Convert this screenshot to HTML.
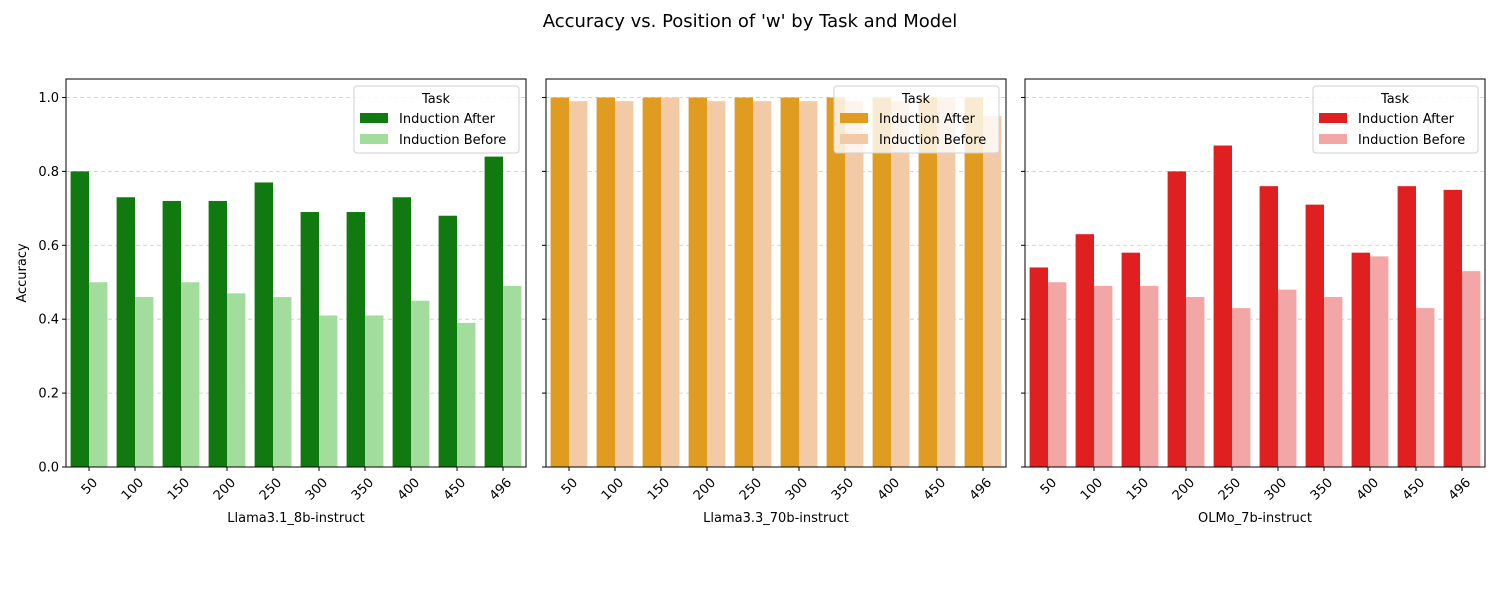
<!DOCTYPE html>
<html><head><meta charset="utf-8"><style>
body{margin:0;background:#fff;}
svg{display:block;font-family:"DejaVu Sans","Liberation Sans",sans-serif;}
</style></head><body>
<svg id="chart" width="1500" height="600" viewBox="0 0 1500 600">
<rect width="1500" height="600" fill="#fff"/>
<text x="750" y="27" text-anchor="middle" font-size="18">Accuracy vs. Position of 'w' by Task and Model</text>
</svg>
<script>
const categories = ["50","100","150","200","250","300","350","400","450","496"];
const models = ["Llama3.1_8b-instruct","Llama3.3_70b-instruct","OLMo_7b-instruct"];
const llama8After = [0.80,0.73,0.72,0.72,0.77,0.69,0.69,0.73,0.68,0.84];
const llama8Before = [0.50,0.46,0.50,0.47,0.46,0.41,0.41,0.45,0.39,0.49];
const llama70After = [1.0,1.0,1.0,1.0,1.0,1.0,1.0,1.0,1.0,1.0];
const llama70Before = [0.99,0.99,1.0,0.99,0.99,0.99,0.99,0.99,1.0,0.95];
const olmoAfter = [0.54,0.63,0.58,0.80,0.87,0.76,0.71,0.58,0.76,0.75];
const olmoBefore = [0.50,0.49,0.49,0.46,0.43,0.48,0.46,0.57,0.43,0.53];
const yTicks = [0.0,0.2,0.4,0.6,0.8,1.0];
const seriesNames = ["Induction After","Induction Before"];

const svg = document.getElementById('chart');
const NS = "http://www.w3.org/2000/svg";
function mk(tag, attrs, parent){const e=document.createElementNS(NS,tag);for(const k in attrs)e.setAttribute(k,attrs[k]);(parent||svg).appendChild(e);return e;}
const panels = [
 {x0:66, after:llama8After, before:llama8Before, ca:"#107a10", cb:"#a3dd9d", key:"llama8"},
 {x0:546, after:llama70After, before:llama70Before, ca:"#e09c20", cb:"#f2cba6", key:"llama70"},
 {x0:1025, after:olmoAfter, before:olmoBefore, ca:"#e02020", cb:"#f2a6a6", key:"olmo"}
];
const W=460, yTop=79, yBot=467, yMax=1.05;
const yScale = v => yBot - v/yMax*(yBot-yTop);
panels.forEach((p,pi)=>{
  const g = mk('g',{});
  
  
  const slot = W/categories.length;
  const xScale = i => p.x0 + slot*(i+0.5);
  // grid
  yTicks.forEach(t=>{
    const y=yScale(t);
    if(t>0){const gl=mk('line',{x1:p.x0,x2:p.x0+W,y1:y,y2:y,stroke:"#c8c8c8","stroke-dasharray":"4,3","stroke-width":0.8},g);
      
      }
    const tk=mk('line',{x1:p.x0-4,x2:p.x0,y1:y,y2:y,stroke:"#000"},g);
    
    
    if(pi===0){const tl=mk('text',{x:p.x0-7,y:y+4.5,"text-anchor":"end","font-size":13},g);tl.textContent=t.toFixed(1);
      
      }
  });
  const bw = slot*0.4;
  categories.forEach((c,i)=>{
    const cx=xScale(i);
    const ya=yScale(p.after[i]);
    const ra=mk('rect',{x:cx-bw,y:ya,width:bw,height:yBot-ya,fill:p.ca},g);
    
    
    const yb=yScale(p.before[i]);
    const rb=mk('rect',{x:cx,y:yb,width:bw,height:yBot-yb,fill:p.cb},g);
    
    
    const xt=mk('line',{x1:cx,x2:cx,y1:yBot,y2:yBot+4,stroke:"#000"},g);
    
    
    const lab=mk('text',{x:cx+3,y:yBot+10,"text-anchor":"end","font-size":13,transform:`rotate(-45 ${cx+3} ${yBot+10})`,"dominant-baseline":"hanging"},g);
    lab.textContent=c;
    
    
  });
  const fr=mk('rect',{x:p.x0,y:yTop,width:W,height:yBot-yTop,fill:"none",stroke:"#000","stroke-width":1},g);
  
  
  const xl=mk('text',{x:p.x0+W/2,y:522,"text-anchor":"middle","font-size":13},g);
  xl.textContent=models[pi];
  
  
  // legend
  const lx=p.x0+W-172, ly=86;
  const lg=mk('g',{},g);
  
  
  mk('rect',{x:lx,y:ly,width:165,height:67,rx:3,fill:"#fff","fill-opacity":0.8,stroke:"#d0d0d0"},lg);
  const lt=mk('text',{x:lx+82,y:ly+17,"text-anchor":"middle","font-size":13},lg);lt.textContent="Task";
  
  
  [p.ca,p.cb].forEach((col,k)=>{
    const yy=ly+27+k*21;
    const sw=mk('rect',{x:lx+6,y:yy,width:28,height:10,fill:col},lg);
    
    
    const te=mk('text',{x:lx+45,y:yy+10,"font-size":13},lg);te.textContent=seriesNames[k];
    
    
  });
});
const yl=mk('text',{x:26,y:273,"text-anchor":"middle","font-size":13,transform:"rotate(-90 26 273)"});
yl.textContent="Accuracy";


</script>
</body></html>
